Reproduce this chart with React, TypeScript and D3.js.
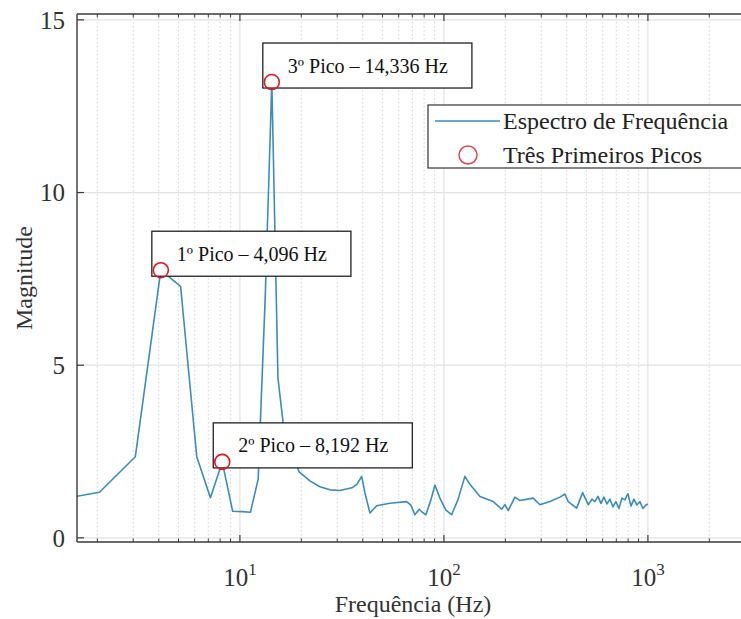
import React, { useEffect, useRef } from "react";
import * as d3 from "d3";

// Spectrum line (frequency in Hz, magnitude)
const freqs = [
  1.024, 2.048, 3.072, 4.096, 5.12, 6.144, 7.168, 8.192, 9.216, 10.24, 11.264,
  12.288, 13.312, 14.336, 15.36, 16.384, 19.456, 22.03, 24.67, 27.62, 30.92,
  35.4, 37.46, 39.51, 41.01, 43.39, 46.8, 54.35, 65.64, 68.88, 72.07, 75.66,
  78.01, 81.61, 86.36, 90.35, 95.59, 102.3, 109.1, 117.1, 126.7, 134.1, 150.2,
  174.5, 191.8, 199.1, 206.7, 222.8, 235.8, 274.1, 295.5, 330.8, 370.3, 391.8,
  406.7, 447.2, 478.6, 509.8, 531.6, 549.9, 568.8, 588.4, 608.6, 629.5, 651.2,
  673.6, 696.8, 720.8, 745.6, 771.6, 798.1, 825.6, 853.9, 883.4, 913.9, 945.2,
  977.7, 1000,
];
const mags = [
  1.0, 1.32, 2.35, 7.75, 7.28, 2.35, 1.16, 2.2, 0.77, 0.76, 0.74,
  1.7, 7.0, 13.2, 4.63, 3.2, 1.92, 1.65, 1.48, 1.39, 1.37,
  1.45, 1.55, 1.78, 1.3, 0.72, 0.93, 1.0, 1.05, 0.95, 0.67, 0.83,
  0.75, 0.67, 1.1, 1.53, 1.15, 0.8, 0.67, 1.1, 1.78, 1.55, 1.2,
  1.05, 0.83, 0.96, 0.79, 1.18, 1.08, 1.15, 0.96, 1.05, 1.18, 1.27,
  1.05, 0.86, 1.31, 0.96, 1.12, 1.05, 1.2, 1.0, 1.18, 0.98, 1.12,
  0.9, 1.05, 0.85, 1.15, 1.1, 1.28, 0.92, 1.12, 0.95, 1.05, 0.85,
  0.95, 0.98,
];

// The three marked peaks
const peakFreqs = [4.096, 8.192, 14.336];
const peakMags = [7.75, 2.2, 13.2];
const peakLabels = ["1º Pico – 4,096 Hz", "2º Pico – 8,192 Hz", "3º Pico – 14,336 Hz"];

const yTicks = [0, 5, 10, 15];
const xMajorTicks = [10, 100, 1000];
const xTickExponents = ["1", "2", "3"];
const legendLabels = ["Espectro de Frequência", "Três Primeiros Picos"];

const xDomain = [1.59, 5000];
const yDomain = [-0.12, 15.17];

const W = 741;
const H = 619;
const FONT = "Liberation Serif, Times New Roman, Times, DejaVu Serif, serif";
const LINE_COLOR = "#3a8dbb";
const PEAK_COLOR = "#e8141c";

export default function App() {
  const ref = useRef<SVGSVGElement | null>(null);

  useEffect(() => {
    const svg = d3.select(ref.current);
    svg.selectAll("*").remove();

    const left = 77, top = 14, bottom = 542;
    const right = left + 204 * Math.log10(xDomain[1] / xDomain[0]);
    const x = d3.scaleLog().domain(xDomain).range([left, right]);
    const y = d3.scaleLinear().domain(yDomain).range([bottom, top]);

    const clipId = "plotclip";
    svg.append("defs").append("clipPath").attr("id", clipId)
      .append("rect").attr("x", left).attr("y", top)
      .attr("width", right - left).attr("height", bottom - top);

    const minor: number[] = [];
    for (let e = 0; e <= 3; e++) {
      for (let k = 2; k <= 9; k++) {
        const v = k * Math.pow(10, e);
        if (v > xDomain[0] && v < xDomain[1]) minor.push(v);
      }
    }

    const grid = svg.append("g");
    grid.selectAll("line.minor").data(minor).join("line")
      .attr("x1", (d) => x(d)).attr("x2", (d) => x(d))
      .attr("y1", top).attr("y2", bottom)
      .attr("stroke", "#d4d4d4").attr("stroke-width", 1)
      .attr("stroke-dasharray", "1.5,2.5");
    grid.selectAll("line.major").data(xMajorTicks).join("line")
      .attr("x1", (d) => x(d)).attr("x2", (d) => x(d))
      .attr("y1", top).attr("y2", bottom)
      .attr("stroke", "#e2e2e2").attr("stroke-width", 1.2);
    grid.selectAll("line.ymajor").data(yTicks).join("line")
      .attr("x1", left).attr("x2", right)
      .attr("y1", (d) => y(d)).attr("y2", (d) => y(d))
      .attr("stroke", "#e2e2e2").attr("stroke-width", 1.2);

    const pts = freqs.map((f, i) => [f, mags[i]] as [number, number]);
    const line = d3.line<[number, number]>().x((d) => x(d[0])).y((d) => y(d[1]));
    svg.append("path").datum(pts)
      .attr("clip-path", `url(#${clipId})`)
      .attr("d", line)
      .attr("fill", "none").attr("stroke", LINE_COLOR)
      .attr("stroke-width", 1.6).attr("stroke-linejoin", "round");

    const axisColor = "#3a3a3a";
    const ax = svg.append("g").attr("stroke", axisColor).attr("stroke-width", 1.4);
    ax.append("line").attr("x1", left).attr("x2", right).attr("y1", top).attr("y2", top);
    ax.append("line").attr("x1", left).attr("x2", right).attr("y1", bottom).attr("y2", bottom);
    ax.append("line").attr("x1", left).attr("x2", left).attr("y1", top).attr("y2", bottom);
    [top, bottom].forEach((yy) => {
      const dir = yy === top ? 1 : -1;
      ax.selectAll(null).data(minor).join("line")
        .attr("x1", (d) => x(d)).attr("x2", (d) => x(d))
        .attr("y1", yy).attr("y2", yy + dir * 3.5).attr("stroke-width", 1);
      ax.selectAll(null).data(xMajorTicks).join("line")
        .attr("x1", (d) => x(d)).attr("x2", (d) => x(d))
        .attr("y1", yy).attr("y2", yy + dir * 7).attr("stroke-width", 1.2);
    });
    ax.selectAll(null).data(yTicks).join("line")
      .attr("x1", left).attr("x2", left + 7)
      .attr("y1", (d) => y(d)).attr("y2", (d) => y(d)).attr("stroke-width", 1.2);

    svg.append("g").selectAll("text").data(yTicks).join("text")
      .attr("x", left - 12).attr("y", (d) => y(d)).attr("dy", "0.35em")
      .attr("text-anchor", "end").attr("font-family", FONT)
      .attr("font-size", 25).attr("fill", "#333").text((d) => String(d));

    const xl = svg.append("g").selectAll("text").data(xMajorTicks).join("text")
      .attr("x", (d) => x(d)).attr("y", bottom + 44)
      .attr("text-anchor", "middle").attr("font-family", FONT)
      .attr("font-size", 25).attr("fill", "#333");
    xl.append("tspan").text("10");
    xl.append("tspan").attr("dy", -11).attr("font-size", 17)
      .text((_d, i) => xTickExponents[i]);

    svg.append("text").attr("x", 413).attr("y", 612)
      .attr("text-anchor", "middle").attr("font-family", FONT)
      .attr("font-size", 24).attr("fill", "#333").text("Frequência (Hz)");
    svg.append("text")
      .attr("transform", `translate(32, ${(top + bottom) / 2}) rotate(-90)`)
      .attr("text-anchor", "middle").attr("font-family", FONT)
      .attr("font-size", 24).attr("fill", "#333").text("Magnitude");

    peakFreqs.forEach((f, i) => {
      const px = x(f) - 9;
      const py = y(peakMags[i]) + 6;
      const g = svg.append("g");
      const rect = g.append("rect");
      const t = g.append("text").attr("font-family", FONT).attr("font-size", 20)
        .attr("fill", "#111").text(peakLabels[i]);
      const tw = (t.node() as SVGTextElement).getComputedTextLength();
      const bw = tw + 49;
      const bh = 45;
      rect.attr("x", px).attr("y", py - bh).attr("width", bw).attr("height", bh)
        .attr("fill", "white").attr("stroke", "#222").attr("stroke-width", 1.3);
      t.attr("x", px + 25).attr("y", py - bh / 2).attr("dy", "0.35em");
    });

    svg.append("g").selectAll("circle").data(peakFreqs).join("circle")
      .attr("cx", (d) => x(d)).attr("cy", (_d, i) => y(peakMags[i]))
      .attr("r", 7.5).attr("fill", "none")
      .attr("stroke", PEAK_COLOR).attr("stroke-width", 1.6);

    const lg = svg.append("g");
    lg.append("rect").attr("x", 428).attr("y", 105).attr("width", 330).attr("height", 63)
      .attr("fill", "white").attr("stroke", "#333").attr("stroke-width", 1.2);
    lg.append("line").attr("x1", 435).attr("x2", 500).attr("y1", 121).attr("y2", 121)
      .attr("stroke", LINE_COLOR).attr("stroke-width", 1.6);
    lg.append("circle").attr("cx", 468).attr("cy", 155).attr("r", 9)
      .attr("fill", "none").attr("stroke", "#e0474f").attr("stroke-width", 1.5);
    lg.selectAll("text").data(legendLabels).join("text")
      .attr("x", 503).attr("y", (_d, i) => 121 + i * 34).attr("dy", "0.35em")
      .attr("font-family", FONT).attr("font-size", 24).attr("fill", "#222")
      .text((d) => d);
  }, []);

  return (
    <svg
      ref={ref}
      width={W}
      height={H}
      style={{ position: "absolute", left: 0, top: 0, display: "block", background: "white" }}
    />
  );
}
